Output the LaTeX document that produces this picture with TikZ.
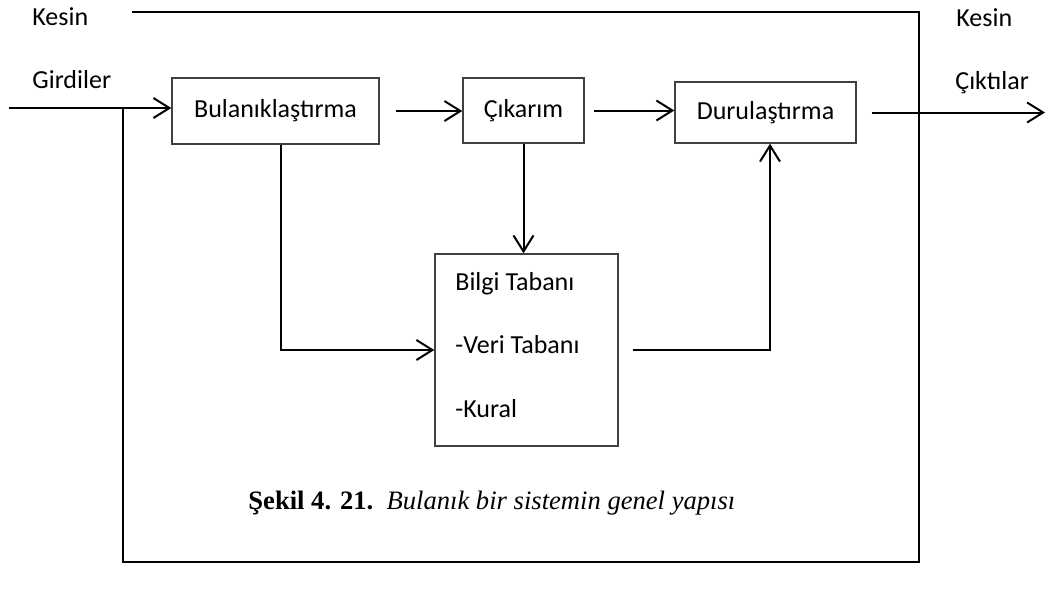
\documentclass[tikz,border=0pt]{standalone}
\usepackage{fontspec}
\setmainfont{Carlito}
\newfontfamily\captionfont{Liberation Serif}
\usepackage{tikz}
\usetikzlibrary{positioning,arrows.meta}

\begin{document}
\begin{tikzpicture}[x=0.5pt, y=-0.5pt,
    every node/.style={font=\fontsize{13}{15}\selectfont},
    blok/.style={draw=black!75, line width=0.7pt, inner sep=0pt},
    ok/.style={-{Straight Barb[length=8pt,width=10pt]}, line width=1pt}]

\useasboundingbox (0,0) rectangle (1046,590);

% Blocks
\node[blok, minimum width=103.5pt, minimum height=33pt] (bul) at (275.5,111) {Bulanıklaştırma};
\node[blok, minimum width=60.5pt, minimum height=32.5pt] (cik) at (523.5,110.5) {Çıkarım};
\node[blok, minimum width=90.5pt, minimum height=30.5pt] (dur) at (765.5,112.5) {Durulaştırma};
\node[blok, minimum width=91.5pt, minimum height=96pt] (bilgi) at (526.5,350) {};
\node[align=left, anchor=west, inner sep=0pt,
      font=\fontsize{13}{31.75}\selectfont] (bilgitxt) at (455,345) {Bilgi Tabanı\\-Veri Tabanı\\-Kural};

% Input / output labels
\node[anchor=west, inner sep=0pt] (kesinG) at (32,17) {Kesin};
\node[anchor=west, inner sep=0pt] (girdi) at (32,80) {Girdiler};
\node[anchor=west, inner sep=0pt] (kesinC) at (956,18) {Kesin};
\node[anchor=west, inner sep=0pt] (cikti) at (955,83) {Çıktılar};

% Caption
\node[anchor=base west, inner sep=0pt,
      font=\captionfont\fontsize{13.3}{16}\selectfont] (sekil) at (248,509)
      {\textbf{Şekil 4. 21.}\ \ \textit{Bulanık bir sistemin genel yapısı}};

\coordinate (giris) at (9,108);
\coordinate (cikis) at (1045,112.5);
\coordinate (sol) at (123,108);

% Connectors
\draw[ok] (giris) -- (giris -| bul.west);
\draw[ok, shorten <=8pt] (bul.east) -- (bul.east -| cik.west);
\draw[ok, shorten <=4.5pt] (cik.east) -- (cik.east -| dur.west);
\draw[ok, shorten <=7.5pt] (dur.east) -- (cikis);
\draw[ok] ([xshift=2.75pt]bul.south) |- (bilgi.west);
\draw[ok] (cik.south) -- (cik.south |- bilgi.north);
\draw[ok, shorten <=7pt] (bilgi.east) -| ([xshift=2.25pt]dur.south);

% Outer frame
\draw[line width=1pt] (132,12) -- (919,12) -- (919,562) -- (123,562) -- (sol);

\end{tikzpicture}
\end{document}
